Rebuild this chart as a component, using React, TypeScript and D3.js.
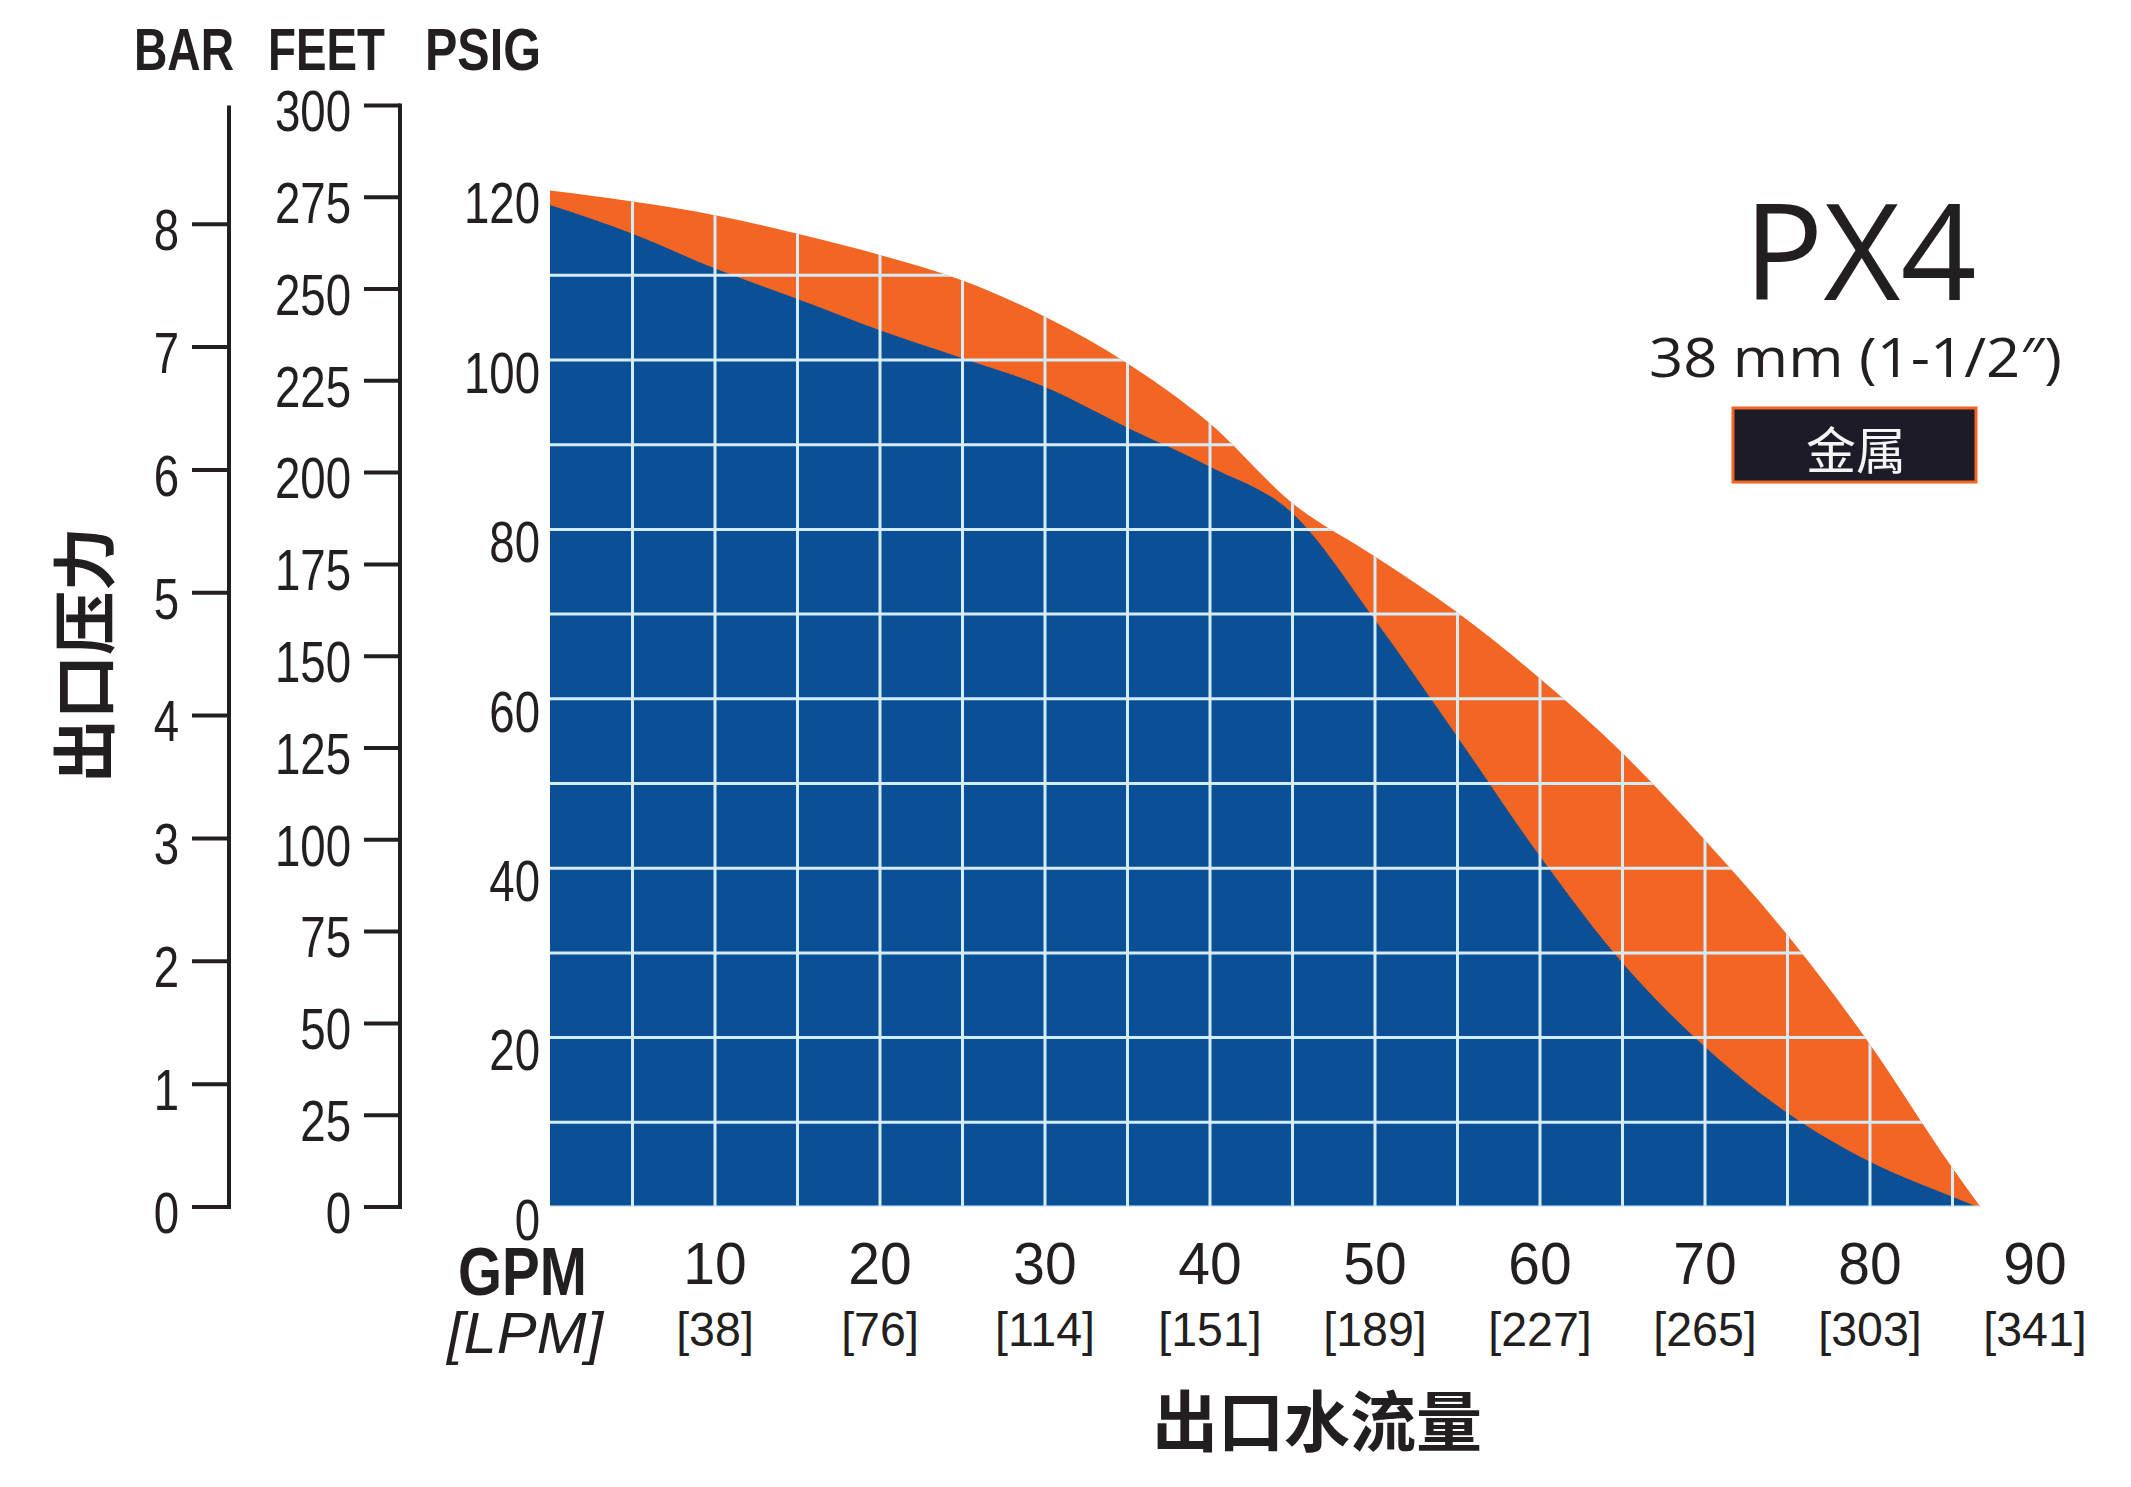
import React from 'react';
import * as d3 from 'd3';

// ---- data ----
const gpmTicks = [10, 20, 30, 40, 50, 60, 70, 80, 90];
const lpmLabels = ['[38]', '[76]', '[114]', '[151]', '[189]', '[227]', '[265]', '[303]', '[341]'];
const psigTicks = [0, 20, 40, 60, 80, 100, 120];
const feetTicks = [0, 25, 50, 75, 100, 125, 150, 175, 200, 225, 250, 275, 300];
const barTicks = [0, 1, 2, 3, 4, 5, 6, 7, 8];
const gridGpm = [5, 10, 15, 20, 25, 30, 35, 40, 45, 50, 55, 60, 65, 70, 75, 80, 85];
const gridPsig = [0, 10, 20, 30, 40, 50, 60, 70, 80, 90, 100, 110];

const orangeGpm = [0, 5, 10, 15, 20, 25, 30, 35, 40, 45, 50, 55, 60, 65, 70, 75, 80, 85, 86.7];
const orangePsig = [120, 118.7, 117.1, 114.9, 112.4, 109.4, 105.1, 99.6, 92.5, 83.1, 76.8, 70.2, 62.4, 53.6, 43.3, 32.1, 19.2, 4.6, 0];

const blueGpm = [0, 5, 10, 15, 20, 25, 30, 35, 40, 45, 50, 55, 60, 65, 70, 75, 80, 85, 86.5];
const bluePsig = [118.3, 114.9, 110.8, 107.2, 103.5, 100.2, 96.8, 92.0, 87.4, 81.9, 69.3, 55.5, 41.4, 28.8, 18.9, 11.1, 5.35, 1.2, 0];

const PSI_PER_BAR = 14.5038;
const PSI_PER_FOOT = 0.43353;

const SANS = "'Liberation Sans', Arial, sans-serif";
const CJK = "'Noto Sans CJK SC', 'Noto Sans CJK TC', sans-serif";
const OPEN = "'Open Sans', 'Liberation Sans', sans-serif";
const INK = '#231f20';
const BLUE = '#0b5096';
const ORANGE = '#f26522';
const GRID = '#d4ebf8';

function CText(props: any) {
  const { x, y, sx, children, ...rest } = props;
  return (
    <text transform={`translate(${x},${y}) scale(${sx},1)`} {...rest}>
      {children}
    </text>
  );
}

export default function App() {
  const W = 2131;
  const H = 1487;
  const x = d3.scaleLinear().domain([0, 90]).range([550, 2035]);
  const y = d3.scaleLinear().domain([0, 120]).range([1207, 190.6]);
  const yBar = (b: number) => y(b * PSI_PER_BAR);
  const yFeet = (f: number) => y(f * PSI_PER_FOOT);

  const orangeData = orangeGpm.map((g, i) => [g, orangePsig[i]] as [number, number]);
  const blueData = blueGpm.map((g, i) => [g, bluePsig[i]] as [number, number]);

  const area = d3
    .area<[number, number]>()
    .x((d) => x(d[0]))
    .y0(y(0))
    .y1((d) => y(d[1]))
    .curve(d3.curveMonotoneX);

  const orangePath = area(orangeData) || '';
  const bluePath = area(blueData) || '';

  const barAxisX = 229;
  const feetAxisX = 400;
  const topY = yFeet(300);

  return (
    <div style={{ position: 'absolute', left: 0, top: 0 }}>
      <svg width={W} height={H} viewBox={`0 0 ${W} ${H}`} style={{ display: 'block', background: '#fff' }}>
        <defs>
          <clipPath id="curveClip">
            <path d={orangePath} />
          </clipPath>
        </defs>

        {/* header */}
        <g fontFamily={SANS} fontWeight="bold" fontSize={60} fill={INK}>
          <text x={134} y={70} textLength={100} lengthAdjust="spacingAndGlyphs">BAR</text>
          <text x={268} y={70} textLength={117} lengthAdjust="spacingAndGlyphs">FEET</text>
          <text x={425} y={70} textLength={116} lengthAdjust="spacingAndGlyphs">PSIG</text>
        </g>

        {/* BAR axis */}
        <g stroke={INK} strokeWidth={4} fill="none">
          <line x1={barAxisX} x2={barAxisX} y1={topY} y2={y(0) + 2} />
          {barTicks.map((b) => (
            <line key={'bt' + b} x1={192} x2={barAxisX} y1={yBar(b)} y2={yBar(b)} />
          ))}
        </g>
        <g fontFamily={SANS} fontSize={57} fill={INK} textAnchor="end">
          {barTicks.map((b) => (
            <CText key={'bl' + b} x={179} y={yBar(b) + 6} sx={0.8} dominantBaseline="central">
              {b}
            </CText>
          ))}
        </g>

        {/* FEET axis */}
        <g stroke={INK} strokeWidth={4} fill="none">
          <line x1={feetAxisX} x2={feetAxisX} y1={topY - 2} y2={y(0) + 2} />
          {feetTicks.map((f) => (
            <line key={'ft' + f} x1={364} x2={feetAxisX} y1={yFeet(f)} y2={yFeet(f)} />
          ))}
        </g>
        <g fontFamily={SANS} fontSize={57} fill={INK} textAnchor="end">
          {feetTicks.map((f) => (
            <CText key={'fl' + f} x={351} y={yFeet(f) + 6} sx={0.8} dominantBaseline="central">
              {f}
            </CText>
          ))}
        </g>

        {/* PSIG labels */}
        <g fontFamily={SANS} fontSize={57} fill={INK} textAnchor="end">
          {psigTicks.map((p) => (
            <CText key={'pl' + p} x={540} y={y(p) + 13} sx={0.8} dominantBaseline="central">
              {p}
            </CText>
          ))}
        </g>

        {/* areas */}
        <path d={orangePath} fill={ORANGE} />
        <path d={bluePath} fill={BLUE} />

        {/* grid clipped to curve area */}
        <g clipPath="url(#curveClip)" stroke={GRID} strokeWidth={3}>
          {gridPsig.map((p) => (
            <line key={'gh' + p} x1={x(0)} x2={x(90)} y1={y(p)} y2={y(p)} />
          ))}
          {gridGpm.map((g) => (
            <line key={'gv' + g} x1={x(g)} x2={x(g)} y1={y(0)} y2={y(125)} />
          ))}
        </g>

        {/* x axis labels */}
        <text x={458} y={1295} fontFamily={SANS} fontWeight="bold" fontSize={69} fill={INK} textLength={129} lengthAdjust="spacingAndGlyphs">
          GPM
        </text>
        <text x={447} y={1353} fontFamily={SANS} fontStyle="italic" fontSize={58} fill={INK} textLength={156} lengthAdjust="spacingAndGlyphs">
          [LPM]
        </text>
        <g fontFamily={SANS} fontSize={60} fill={INK} textAnchor="middle">
          {gpmTicks.map((g) => (
            <CText key={'xl' + g} x={x(g)} y={1284} sx={0.95}>
              {g}
            </CText>
          ))}
        </g>
        <g fontFamily={SANS} fontSize={49} fill={INK} textAnchor="middle">
          {gpmTicks.map((g, i) => (
            <CText key={'ll' + g} x={x(g)} y={1346} sx={0.95}>
              {lpmLabels[i]}
            </CText>
          ))}
        </g>

        {/* axis titles */}
        <text x={1317} y={1417} fontFamily={CJK} fontWeight="bold" fontSize={66} fill={INK} textAnchor="middle" dominantBaseline="central">
          出口水流量
        </text>
        <text
          transform="translate(80,655) rotate(-90)"
          fontFamily={CJK}
          fontWeight="bold"
          fontSize={64}
          fill={INK}
          textAnchor="middle"
          dominantBaseline="central"
        >
          出口压力
        </text>

        {/* model block */}
        <text x={1860} y={300} fontFamily={OPEN} fontSize={133} fill={INK} textAnchor="middle">
          PX4
        </text>
        <text x={1649} y={377} fontFamily={OPEN} fontSize={55} fill={INK} textLength={413} lengthAdjust="spacingAndGlyphs">
          38 mm (1-1/2″)
        </text>
        <rect x={1733} y={408} width={243} height={74} fill="#1d1b27" stroke={ORANGE} strokeWidth={3} />
        <text x={1856} y={447} fontFamily={CJK} fontSize={50} fill="#f4f4f4" textAnchor="middle" dominantBaseline="central">
          金属
        </text>
      </svg>
    </div>
  );
}
